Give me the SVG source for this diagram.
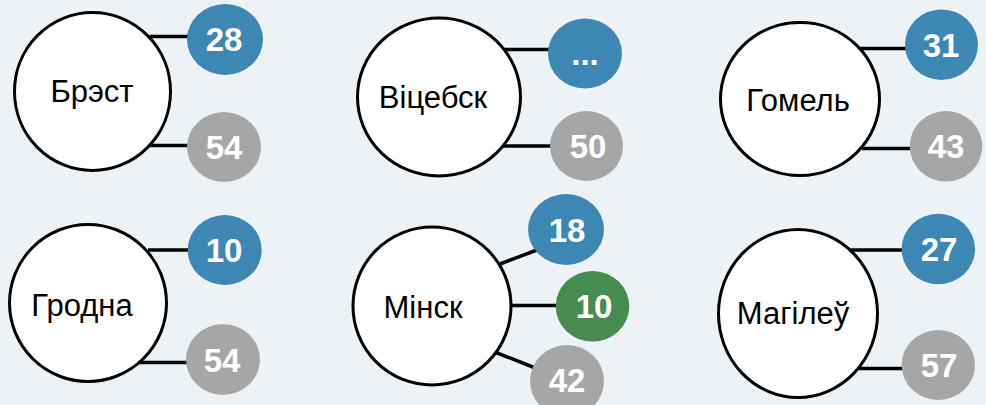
<svg xmlns="http://www.w3.org/2000/svg" width="986" height="405" viewBox="0 0 986 405">
<style>
.city{fill:#fff;stroke:#000;stroke-width:3}
.ct{font-family:"Liberation Sans",Arial,sans-serif;font-size:31px;fill:#000;text-anchor:middle}
.num{font-family:"Liberation Sans",Arial,sans-serif;font-size:33px;font-weight:bold;fill:#fff;text-anchor:middle}
.blue{fill:#3c87b4}
.gray{fill:#a6a6a6}
.green{fill:#468c50}
#connectors line{stroke:#000;stroke-width:3.5}
</style>
<rect width="986" height="405" fill="#edf2f7"/>
<g id="connectors">
<line x1="150" y1="36.5" x2="190" y2="36.5"/>
<line x1="148" y1="145.5" x2="190" y2="145.5"/>
<line x1="504" y1="49.5" x2="550" y2="49.5"/>
<line x1="500" y1="146" x2="552" y2="146"/>
<line x1="858" y1="48.5" x2="908" y2="48.5"/>
<line x1="862" y1="148.5" x2="912" y2="148.5"/>
<line x1="148" y1="250" x2="190" y2="250"/>
<line x1="138" y1="362.5" x2="188" y2="362.5"/>
<line x1="500" y1="264" x2="537" y2="250"/>
<line x1="511" y1="305.5" x2="558" y2="305.5"/>
<line x1="496" y1="352.5" x2="534" y2="367.5"/>
<line x1="850" y1="250" x2="904" y2="250"/>
<line x1="855" y1="368.5" x2="904" y2="368.5"/>
</g>
<g id="brest">
<ellipse class="city" cx="92.5" cy="91.5" rx="78" ry="79"/>
<text class="ct" x="92" y="102">Брэст</text>
</g>
<g id="brest-28"><ellipse class="blue" cx="225" cy="39.5" rx="38" ry="35.5"/><text class="num" x="224" y="51">28</text></g>
<g id="brest-54"><ellipse class="gray" cx="224" cy="147" rx="37" ry="35"/><text class="num" x="224" y="159">54</text></g>
<g id="vitebsk">
<ellipse class="city" cx="439" cy="97" rx="81.5" ry="79"/>
<text class="ct" x="433" y="108">Віцебск</text>
</g>
<g id="vitebsk-dots"><ellipse class="blue" cx="585" cy="53.5" rx="37" ry="35"/><text class="num" x="585" y="65">...</text></g>
<g id="vitebsk-50"><ellipse class="gray" cx="586.5" cy="146" rx="36.5" ry="35"/><text class="num" x="588" y="158">50</text></g>
<g id="gomel">
<ellipse class="city" cx="800" cy="99" rx="79.5" ry="76.5"/>
<text class="ct" x="798" y="111">Гомель</text>
</g>
<g id="gomel-31"><ellipse class="blue" cx="941.5" cy="44.7" rx="36.5" ry="35.3"/><text class="num" x="941" y="56.5">31</text></g>
<g id="gomel-43"><ellipse class="gray" cx="946" cy="146.3" rx="36.3" ry="35.3"/><text class="num" x="946" y="158">43</text></g>
<g id="grodno">
<ellipse class="city" cx="88" cy="303" rx="78.5" ry="78.5"/>
<text class="ct" x="82" y="316">Гродна</text>
</g>
<g id="grodno-10"><ellipse class="blue" cx="224.7" cy="250" rx="37" ry="35"/><text class="num" x="224" y="262">10</text></g>
<g id="grodno-54"><ellipse class="gray" cx="223" cy="359.5" rx="37" ry="35.5"/><text class="num" x="222" y="371.5">54</text></g>
<g id="minsk">
<ellipse class="city" cx="432" cy="306" rx="79" ry="79"/>
<text class="ct" x="423" y="318">Мінск</text>
</g>
<g id="minsk-18"><ellipse class="blue" cx="566" cy="229.5" rx="38" ry="35.5"/><text class="num" x="567" y="241.5">18</text></g>
<g id="minsk-10"><ellipse class="green" cx="592.5" cy="306.3" rx="36.8" ry="35.3"/><text class="num" x="594" y="318">10</text></g>
<g id="minsk-42"><ellipse class="gray" cx="567" cy="381" rx="37" ry="36"/><text class="num" x="567" y="392">42</text></g>
<g id="mogilev">
<ellipse class="city" cx="798" cy="313.5" rx="79.5" ry="84"/>
<text class="ct" x="793" y="324">Магілеў</text>
</g>
<g id="mogilev-27"><ellipse class="blue" cx="938.3" cy="249" rx="36.7" ry="35.2"/><text class="num" x="939" y="261">27</text></g>
<g id="mogilev-57"><ellipse class="gray" cx="938.3" cy="365" rx="36.7" ry="35"/><text class="num" x="939" y="377">57</text></g>
</svg>
